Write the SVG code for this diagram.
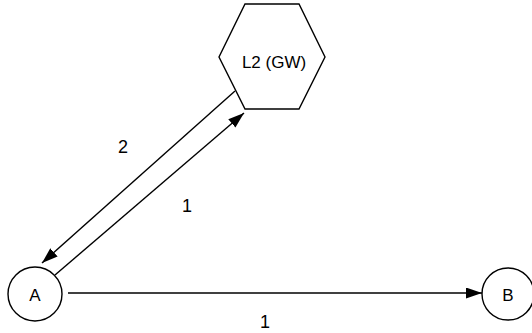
<svg xmlns="http://www.w3.org/2000/svg" width="532" height="333" viewBox="0 0 532 333">
<style>
.shape{fill:#fff;stroke:#000;stroke-width:1.4}
.lbl{font-family:"Liberation Sans",Arial,sans-serif;font-size:17px;fill:#000;text-anchor:middle}
.elbl{font-family:"Liberation Sans",Arial,sans-serif;font-size:18px;fill:#000;text-anchor:middle}
.edge{fill:none;stroke:#000;stroke-width:1.4}
</style>
<defs>
<marker id="arrB" viewBox="0 0 16 11" refX="16" refY="5.5" markerWidth="16" markerHeight="11" markerUnits="userSpaceOnUse" orient="auto">
<path d="M0,0 L16,5.5 L0,11 Z" fill="#000"/>
</marker>
</defs>
<g id="connectors">
<line class="edge" x1="235" y1="91" x2="42" y2="263" marker-end="url(#arrB)"/>
<line class="edge" x1="55" y1="275" x2="244" y2="113" marker-end="url(#arrB)"/>
<line class="edge" x1="68" y1="293" x2="482" y2="293" marker-end="url(#arrB)"/>
<text class="elbl" x="123" y="153">2</text>
<text class="elbl" x="187" y="212">1</text>
<text class="elbl" x="265" y="328">1</text>
</g>
<g id="L2GW">
<polygon class="shape" points="245,4 299,4 325,57 299,109 245,109 219,57"/>
<text class="lbl" x="274" y="68">L2 (GW)</text>
</g>
<g id="A">
<circle class="shape" cx="35" cy="294" r="27"/>
<text class="lbl" x="35" y="301">A</text>
</g>
<g id="B">
<circle class="shape" cx="508" cy="294" r="26"/>
<text class="lbl" x="508" y="301">B</text>
</g>
</svg>
